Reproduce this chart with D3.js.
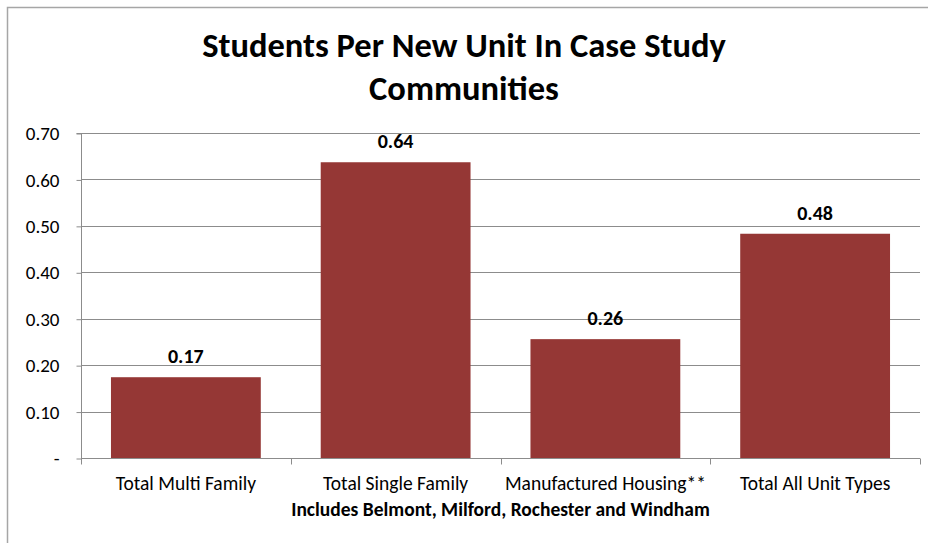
<!DOCTYPE html>
<html>
  <head>
    <meta charset="UTF-8" />
    <script src="https://d3js.org/d3.v7.min.js"></script>
    <style>
      body { margin: 0; background: #fff; }
      text { font-family: Carlito, Lato, "Open Sans", sans-serif; }
    </style>
  </head>
  <body>
    <svg width="928" height="543"></svg>
    <script>
      // data
      const categories = ["Total Multi Family", "Total Single Family", "Manufactured Housing**", "Total All Unit Types"]
      const values = [0.174, 0.637, 0.256, 0.483]
      const yTicks = [0, 0.1, 0.2, 0.3, 0.4, 0.5, 0.6, 0.7]
      const titleLines = ["Students Per New Unit In Case Study", "Communities"]
      const xTitle = "Includes Belmont, Milford, Rochester and Windham"

      const svg = d3.select("svg")
      const marge = { top: 133, left: 81, right: 8, bottom: 85 }
      const W = 928, H = 543

      // chart border
      svg.append("rect")
        .attr("x", 7.5).attr("y", 7.5)
        .attr("width", W).attr("height", H)
        .attr("fill", "none").attr("stroke", "#a6a6a6").attr("stroke-width", 1.5)

      const x = d3.scaleBand()
        .domain(categories)
        .range([marge.left, W - marge.right])
        .paddingInner(0.4 / 1.4)
        .paddingOuter(0.2 / 1.4)

      const y = d3.scaleLinear()
        .domain([0, 0.7])
        .range([H - marge.bottom, marge.top])

      // gridlines
      svg.append("g")
        .selectAll("line")
        .data(yTicks.slice(1))
        .enter().append("line")
        .attr("x1", marge.left).attr("x2", W - marge.right)
        .attr("y1", d => Math.round(y(d)) + 0.5).attr("y2", d => Math.round(y(d)) + 0.5)
        .attr("stroke", "#8c8c8c").attr("stroke-width", 1)

      // y axis
      const yAxis = d3.axisLeft(y)
        .tickValues(yTicks)
        .tickSize(5)
        .tickPadding(17)
        .tickFormat(d => d === 0 ? "-" : d.toFixed(2))
      const gy = svg.append("g")
        .attr("transform", "translate(" + (marge.left + 0.5) + ",0.5)")
        .call(yAxis)
      gy.select(".domain").attr("stroke", "#8c8c8c").attr("d", "M-5," + y(0.7) + "H0V" + (y(0)))
      gy.selectAll(".tick line").attr("stroke", "#8c8c8c")
      gy.selectAll(".tick text").attr("font-size", 19).attr("fill", "#000")

      // x axis
      const xAxis = d3.axisBottom(x).tickSize(0).tickPadding(18)
      const gx = svg.append("g")
        .attr("transform", "translate(0," + (y(0) + 0.5) + ")")
        .call(xAxis)
      gx.select(".domain").attr("stroke", "#8c8c8c")
        .attr("d", "M" + marge.left + ",0H" + (W - marge.right))
      gx.selectAll(".tick text").attr("font-size", 19.5).attr("fill", "#000")
      // category boundary ticks
      const bounds = d3.range(categories.length + 1).map(i => marge.left + i * x.step())
      gx.selectAll(".bound")
        .data(bounds)
        .enter().append("line")
        .attr("x1", d => Math.round(d) + 0.5).attr("x2", d => Math.round(d) + 0.5)
        .attr("y1", 0).attr("y2", 6)
        .attr("stroke", "#8c8c8c")

      // bars
      svg.append("g")
        .selectAll("rect")
        .data(values)
        .enter().append("rect")
        .attr("x", (d, i) => x(categories[i]))
        .attr("y", d => y(d))
        .attr("width", x.bandwidth())
        .attr("height", d => y(0) - y(d))
        .attr("fill", "#953735")

      // value labels
      svg.append("g")
        .selectAll("text")
        .data(values)
        .enter().append("text")
        .attr("x", (d, i) => x(categories[i]) + x.bandwidth() / 2)
        .attr("y", d => y(d) - 14)
        .attr("text-anchor", "middle")
        .attr("font-size", 20)
        .attr("font-weight", "bold")
        .text(d => d.toFixed(2))

      // title
      svg.append("text")
        .attr("text-anchor", "middle")
        .attr("font-size", 34.5)
        .attr("font-weight", "bold")
        .selectAll("tspan")
        .data(titleLines)
        .enter().append("tspan")
        .attr("x", 464)
        .attr("y", (d, i) => 57 + i * 43)
        .text(d => d)

      // x axis title
      svg.append("text")
        .attr("x", (marge.left + W - marge.right) / 2)
        .attr("y", 516)
        .attr("text-anchor", "middle")
        .attr("font-size", 19.5)
        .attr("font-weight", "bold")
        .text(xTitle)
    </script>
  </body>
</html>
